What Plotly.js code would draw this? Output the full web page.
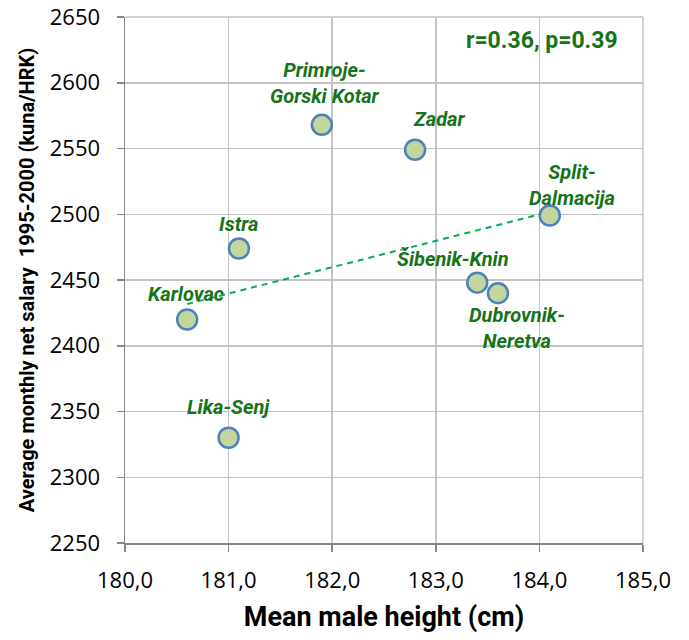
<!DOCTYPE html>
<html>
<head>
<meta charset="utf-8">
<script src="https://cdn.plot.ly/plotly-3.0.1.min.js"></script>
<style>html,body{margin:0;padding:0;background:#fff;} #chart{width:689px;height:640px;}</style>
</head>
<body>
<div id="chart"></div>
<script>
// Data
const regions = ["Karlovac", "Istra", "Primroje-<br>Gorski Kotar", "Zadar", "Split-<br>Dalmacija", "Šibenik-Knin", "Dubrovnik-<br>Neretva", "Lika-Senj"];
const heights = [180.6, 181.1, 181.9, 182.8, 184.1, 183.4, 183.6, 181.0];
const salaries = [2420, 2474, 2568, 2549, 2499, 2448, 2440, 2330];
const statsText = "r=0.36, p=0.39";
const xTickVals = [180, 181, 182, 183, 184, 185];
const xTickText = ["180,0", "181,0", "182,0", "183,0", "184,0", "185,0"];

// label offsets in pixels (style only)
const labelShiftX = [-1, 0, 3, 24, 22, -24, 19, 0];
const labelShiftY = [25, 24, 42, 31, 31, 24, -35, 31];

// least-squares trendline computed from the data
const n = heights.length;
const mx = heights.reduce((a, b) => a + b, 0) / n;
const my = salaries.reduce((a, b) => a + b, 0) / n;
let sxy = 0, sxx = 0;
for (let i = 0; i < n; i++) { sxy += (heights[i] - mx) * (salaries[i] - my); sxx += (heights[i] - mx) ** 2; }
const slope = sxy / sxx, icpt = my - slope * mx;
const xmin = Math.min(...heights), xmax = Math.max(...heights);

const green = "#177317";
const narrow = "Roboto, Liberation Sans, sans-serif";
const labelFont = {family: narrow, size: 20, color: green};

const annotations = regions.map((r, i) => ({
  x: heights[i], y: salaries[i], xref: "x", yref: "y",
  text: "<b><i>" + r + "</i></b>", showarrow: false,
  xshift: labelShiftX[i], yshift: labelShiftY[i],
  xanchor: "center", yanchor: "middle",
  font: labelFont, align: "center"
}));
annotations.push({
  x: 0.805, y: 0.955, xref: "paper", yref: "paper", showarrow: false,
  xanchor: "center", yanchor: "middle",
  text: "<b>" + statsText + "</b>",
  font: {family: narrow, size: 23, color: green}
});

const traces = [
  {
    x: [xmin, xmax], y: [icpt + slope * xmin, icpt + slope * xmax],
    mode: "lines", type: "scatter", hoverinfo: "skip",
    line: {color: "#00b050", width: 2, dash: "6px,5px"}
  },
  {
    x: heights, y: salaries, mode: "markers", type: "scatter",
    marker: {size: 20, color: "#c3d69b", line: {color: "#4f81bd", width: 2.5}}
  }
];

const tickFont = {family: "Open Sans, sans-serif", size: 22, color: "#000"};
const titleFont = {family: narrow, color: "#000"};

const layout = {
  width: 689, height: 640,
  margin: {l: 125, r: 46, t: 17, b: 97},
  showlegend: false,
  paper_bgcolor: "#fff", plot_bgcolor: "#fff",
  xaxis: {
    range: [180, 185], tickvals: xTickVals, ticktext: xTickText,
    showgrid: true, gridcolor: "#c3c3c3", gridwidth: 1.5,
    showline: true, linecolor: "#868686", linewidth: 1.5,
    ticks: "outside", ticklen: 7, tickcolor: "#868686", tickwidth: 1.5,
    tickfont: tickFont, ticklabelstandoff: 10, zeroline: false,
    title: {text: "<b>Mean male height (cm)</b>", font: Object.assign({size: 27}, titleFont), standoff: 14}
  },
  yaxis: {
    range: [2250, 2650], dtick: 50,
    showgrid: true, gridcolor: "#c3c3c3", gridwidth: 1.5,
    showline: true, linecolor: "#868686", linewidth: 1.5,
    ticks: "outside", ticklen: 7, tickcolor: "#868686", tickwidth: 1.5,
    tickfont: tickFont, ticklabelstandoff: 12, zeroline: false,
    title: {text: "<b>Average monthly net salary  1995-2000 (kuna/HRK)</b>", font: Object.assign({size: 20}, titleFont), standoff: 10}
  },
  shapes: [
    {type: "line", xref: "paper", yref: "paper", x0: 0, x1: 1, y0: 1, y1: 1, line: {color: "#c3c3c3", width: 1.5}},
    {type: "line", xref: "paper", yref: "paper", x0: 1, x1: 1, y0: 0, y1: 1, line: {color: "#c3c3c3", width: 1.5}}
  ],
  annotations: annotations
};

Plotly.newPlot("chart", traces, layout, {displayModeBar: false, staticPlot: true});
</script>
</body>
</html>
